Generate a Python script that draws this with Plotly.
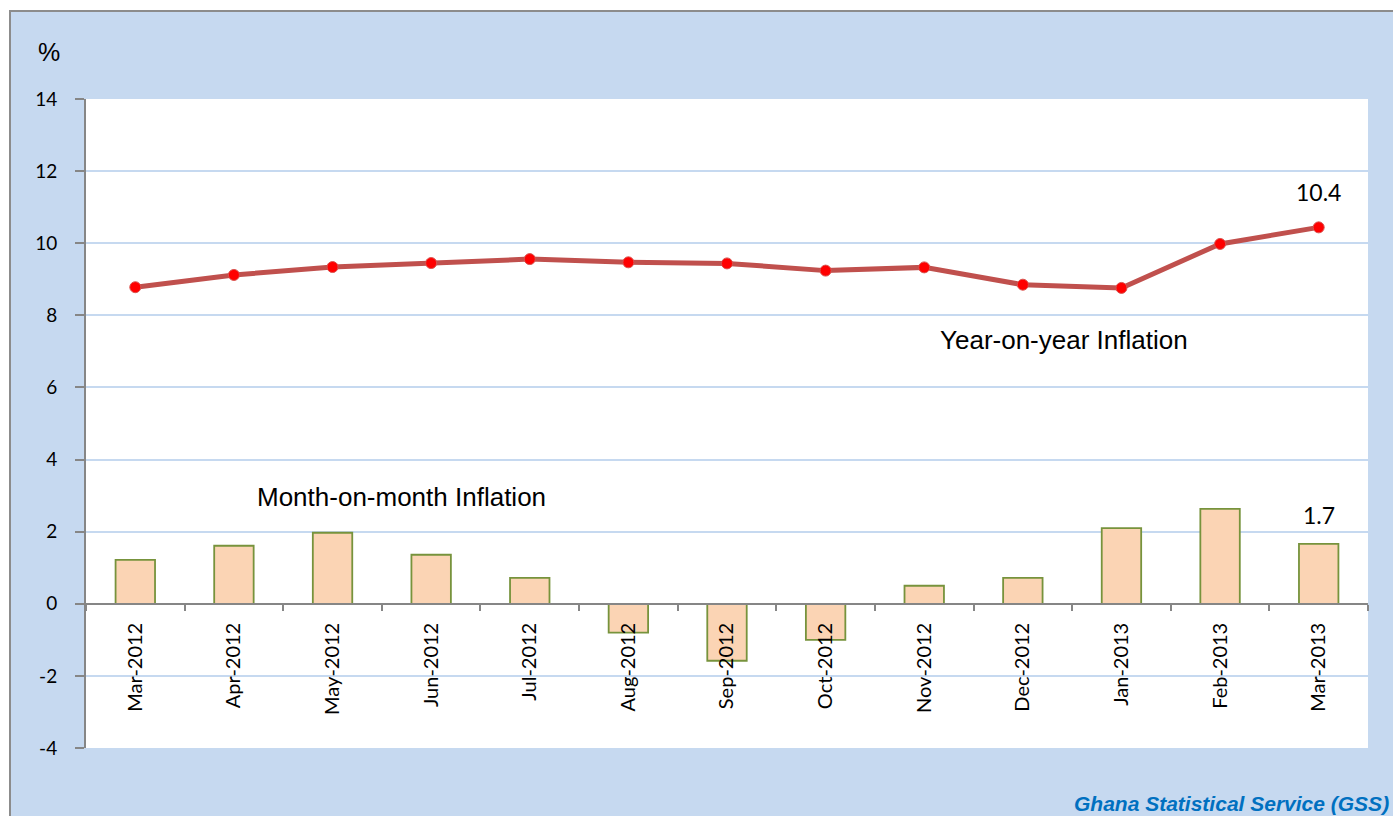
import plotly.graph_objects as go

months = ["Mar-2012", "Apr-2012", "May-2012", "Jun-2012", "Jul-2012", "Aug-2012",
          "Sep-2012", "Oct-2012", "Nov-2012", "Dec-2012", "Jan-2013", "Feb-2013", "Mar-2013"]
year_on_year = [8.78, 9.12, 9.34, 9.45, 9.56, 9.47, 9.44, 9.24, 9.33, 8.85, 8.76, 9.98, 10.44]
month_on_month = [1.22, 1.61, 1.97, 1.36, 0.72, -0.80, -1.58, -1.00, 0.50, 0.72, 2.10, 2.63, 1.66]
y_ticks = [-4, -2, 0, 2, 4, 6, 8, 10, 12, 14]
y_tick_text = ["-4", "-2", "0", "2", "4", "6", "8", "10", "12", "14"]

L, R, T, B = 86, 25, 99, 68
W, H = 1393, 816
pw, ph = W - L - R, H - T - B

def px_x(p):
    return (p - L) / pw

def px_y(p):
    return (H - B - p) / ph

fig = go.Figure()
fig.add_trace(go.Bar(
    x=months, y=month_on_month, width=0.4,
    marker=dict(color="#FBD4B4", line=dict(color="#77933C", width=1.8)),
    name="Month-on-month Inflation", showlegend=False,
))
fig.add_trace(go.Scatter(
    x=months, y=year_on_year, mode="lines+markers",
    line=dict(color="#C0504D", width=5),
    marker=dict(color="#FF0000", size=11, line=dict(color="#D9534F", width=1)),
    name="Year-on-year Inflation", showlegend=False,
))

ymin, ymax = -4, 14
fig.update_layout(
    width=W, height=H,
    margin=dict(l=L, r=R, t=T, b=B, autoexpand=False),
    paper_bgcolor="white",
    plot_bgcolor="white",
    bargap=0.6,
    xaxis=dict(
        type="category", range=[-0.5, len(months) - 0.5],
        anchor="free", position=(0 - ymin) / (ymax - ymin),
        showline=True, linecolor="#868686", linewidth=2,
        ticks="outside", tickson="boundaries", ticklen=6, tickcolor="#868686", tickwidth=2,
        tickangle=-90, tickfont=dict(family="Lato", size=20, color="black"),
        ticklabelstandoff=10,
        showgrid=False, zeroline=False,
    ),
    yaxis=dict(
        range=[ymin, ymax], tickvals=y_ticks, ticktext=y_tick_text,
        showline=True, linecolor="#868686", linewidth=2,
        ticks="outside", ticklen=9, tickcolor="#868686", tickwidth=2,
        tickfont=dict(family="Lato", size=19, color="black"),
        ticklabelstandoff=14,
        showgrid=True, gridcolor="#C6D9F0", gridwidth=1.5,
        zeroline=False,
    ),
    shapes=[
        dict(type="rect", xref="paper", yref="paper", layer="below",
             x0=px_x(10), x1=px_x(1420), y0=px_y(11), y1=px_y(840),
             fillcolor="#C6D9F0", line=dict(color="#8C8C8C", width=2)),
        dict(type="rect", xref="paper", yref="paper", layer="below",
             x0=0, x1=1, y0=0, y1=1, fillcolor="white", line=dict(width=0)),
    ],
    annotations=[
        dict(text="%", xref="paper", yref="paper", x=px_x(49), y=px_y(52),
             xanchor="center", yanchor="middle", showarrow=False,
             font=dict(family="Liberation Sans", size=25, color="black")),
        dict(text="Year-on-year Inflation", xref="paper", yref="paper",
             x=px_x(1064), y=px_y(340), xanchor="center", yanchor="middle", showarrow=False,
             font=dict(family="Liberation Sans", size=26, color="black")),
        dict(text="Month-on-month Inflation", xref="paper", yref="paper",
             x=px_x(401), y=px_y(497), xanchor="center", yanchor="middle", showarrow=False,
             font=dict(family="Liberation Sans", size=26, color="black")),
        dict(text=f"{year_on_year[-1]:.1f}", x=months[-1], y=year_on_year[-1], yshift=35,
             showarrow=False, xanchor="center", font=dict(family="Lato", size=23, color="black")),
        dict(text=f"{month_on_month[-1]:.1f}", x=months[-1], y=month_on_month[-1], yshift=29,
             showarrow=False, xanchor="center", font=dict(family="Lato", size=23, color="black")),
        dict(text="<b><i>Ghana Statistical Service (GSS)</i></b>", xref="paper", yref="paper",
             x=px_x(1391), y=px_y(803), xanchor="right", yanchor="middle", showarrow=False,
             font=dict(family="Liberation Sans", size=21, color="#0070C0")),
    ],
)

fig.write_html("out.html", config={"displayModeBar": False},
               post_script="document.body.style.margin='0';document.body.style.overflow='hidden';")
